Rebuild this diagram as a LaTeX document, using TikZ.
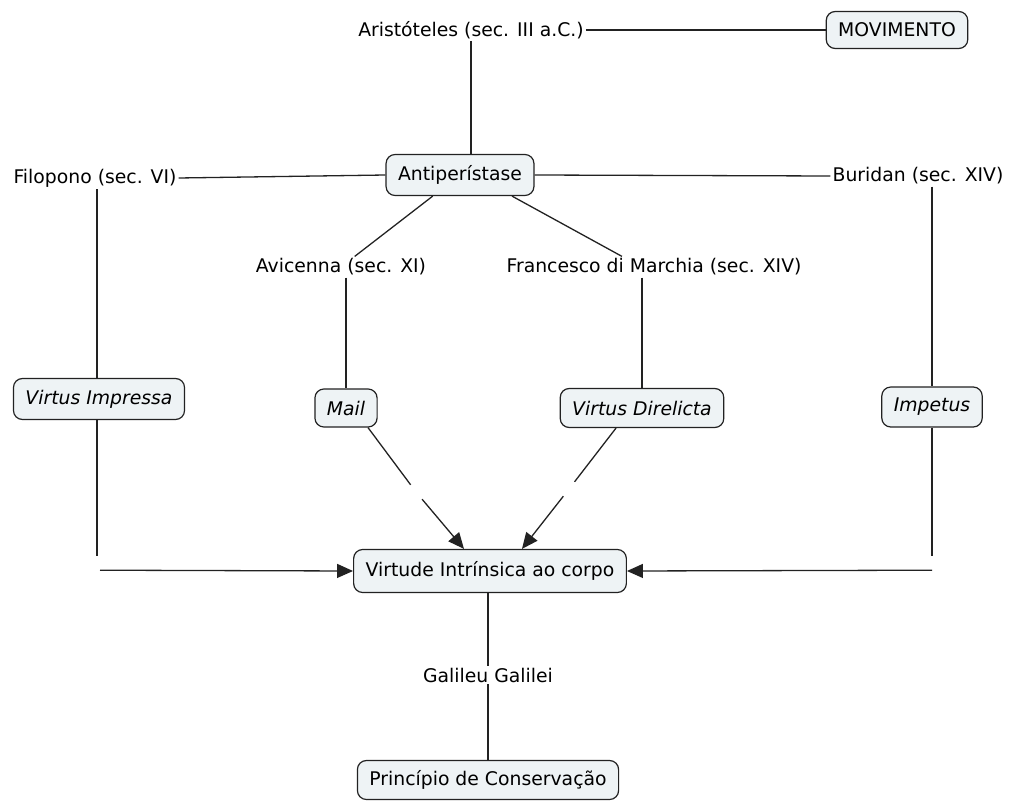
\documentclass[tikz,border=0pt]{standalone}
\usepackage{fontspec}
\setmainfont{DejaVu Sans}
\usetikzlibrary{arrows.meta}
\definecolor{boxfill}{HTML}{EEF3F5}
\definecolor{ln}{HTML}{222222}
\tikzset{
  concept/.style={draw=ln, line width=1.2pt, fill=boxfill, rounded corners=9pt,
    inner xsep=12pt, minimum height=41pt, font=\fontsize{18.8}{22}\selectfont},
  phrase/.style={inner sep=2pt, font=\fontsize{18.8}{22}\selectfont},
  hidden/.style={inner sep=0pt, minimum size=14pt},
  conn/.style={draw=ln, line width=1.3pt},
  arr/.style={conn, -{Triangle[length=16pt,width=14pt]}}
}
\begin{document}
\begin{tikzpicture}[x=1pt,y=-1pt]
\useasboundingbox (0,0) rectangle (1016,802);
% concepts
\node[concept, minimum height=37pt] (mov) at (897,30) {MOVIMENTO};
\node[concept] (anti) at (460,175) {Antiperístase};
\node[concept] (vi) at (99,399) {\itshape Virtus Impressa};
\node[concept, minimum height=38pt] (mail) at (346,408) {\itshape Mail};
\node[concept, minimum height=39pt] (dir) at (642,408) {\itshape Virtus Direlicta};
\node[concept, minimum height=40pt] (imp) at (932,407) {\itshape Impetus};
\node[concept, minimum height=43pt] (virt) at (490,571) {Virtude Intrínsica ao corpo};
\node[concept, minimum height=39pt] (prin) at (488,780) {Princípio de Conservação};
% linking phrases
\node[phrase] (arist) at (471,30) {Aristóteles (sec. III a.C.)};
\node[phrase] (filo) at (95,178) {Filopono (sec. VI)};
\node[phrase] (bur) at (918,176) {Buridan (sec. XIV)};
\node[phrase] (avi) at (341,267) {Avicenna (sec. XI)};
\node[phrase] (fran) at (654,267) {Francesco di Marchia (sec. XIV)};
\node[phrase] (gal) at (488,675) {Galileu Galilei};
% empty linking phrases
\node[hidden] (ll) at (97,563) {};
\node[hidden] (lr) at (932,563) {};
\node[hidden] (mm) at (416,492) {};
\node[hidden] (md) at (569,489) {};
% connectors
\draw[conn] (arist.east) -- (mov.west);
\draw[conn] (arist.south) -- (arist.south |- anti.north);
\draw[conn] (filo.east) -- (anti.west);
\draw[conn] (anti.east) -- (bur.west);
\draw[conn] (anti) -- (avi);
\draw[conn] ([xshift=52pt]anti.south) -- ([xshift=-32pt]fran.north);
\draw[conn] (filo.south -| ll.north) -- (vi.north -| ll.north);
\draw[conn] (vi.south -| ll.north) -- (ll.north);
\draw[arr] ([xshift=3pt]ll.south) -- (virt.west);
\draw[conn] (mail.north |- avi.south) -- (mail.north);
\draw[conn] (dir.north |- fran.south) -- (dir.north);
\draw[conn] (imp.north |- bur.south) -- (imp.north);
\draw[conn] (imp.south) -- (lr.north);
\draw[arr] (lr.south) -- (virt.east);
\draw[conn] ([xshift=22pt]mail.south) -- (mm);
\draw[arr] (mm) -- ([xshift=-26pt]virt.north);
\draw[conn] ([xshift=-26pt]dir.south) -- (md);
\draw[arr] (md) -- ([xshift=32pt]virt.north);
\draw[conn] (gal.north |- virt.south) -- (gal.north);
\draw[conn] (gal.south) -- (prin.north);
\end{tikzpicture}
\end{document}
